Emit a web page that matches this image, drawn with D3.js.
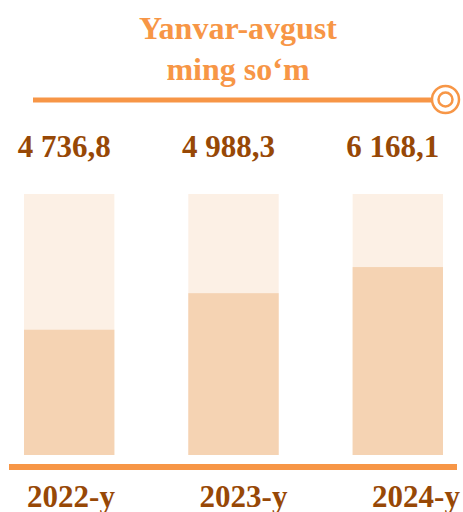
<!DOCTYPE html>
<html>
<head>
<meta charset="utf-8">
<script src="https://cdn.jsdelivr.net/npm/d3@7"></script>
<style>
  html, body { margin: 0; padding: 0; background: #fff; }
  svg { display: block; }
  text { font-family: "Liberation Serif", "Times New Roman", serif; font-weight: bold; }
</style>
</head>
<body>
<div id="chart"></div>
<script>
// chart data
const years = ["2022-y", "2023-y", "2024-y"];
const values = [4736.8, 4988.3, 6168.1];
// filled share of each bar, percent (as drawn in the infographic)
const fillShare = [48, 62, 72];
const titleLines = ["Yanvar-avgust", "ming so\u2018m"];

const WIDTH = 463;
const HEIGHT = 512;

const ORANGE = "#F79646";
const BROWN = "#974806";
const BAR_BG = "#FCF0E5";
const BAR_FG = "#F5D3B3";

const svg = d3.select("#chart")
    .append("svg")
    .attr("width", WIDTH)
    .attr("height", HEIGHT);

// title
svg.append("g")
    .selectAll("text")
    .data(titleLines)
    .join("text")
    .attr("x", 238)
    .attr("y", (d, i) => 39 + i * 41)
    .attr("text-anchor", "middle")
    .attr("font-size", 32)
    .attr("fill", ORANGE)
    .text(d => d);

// title rule with the ring at its end
svg.append("line")
    .attr("x1", 33).attr("x2", 432)
    .attr("y1", 100).attr("y2", 100)
    .attr("stroke", ORANGE)
    .attr("stroke-width", 5);
svg.append("circle")
    .attr("cx", 445.5).attr("cy", 99.5).attr("r", 13.5)
    .attr("fill", "#fff").attr("stroke", ORANGE).attr("stroke-width", 2.5);
svg.append("circle")
    .attr("cx", 445.5).attr("cy", 99.5).attr("r", 7)
    .attr("fill", "#fff").attr("stroke", ORANGE).attr("stroke-width", 2.5);

// scales
const xScale = d3.scaleBand()
    .domain(years)
    .range([24, 443])
    .paddingInner(0.45)
    .paddingOuter(0);

const yScale = d3.scaleLinear()
    .domain([0, 100])
    .range([455, 194]);

const fmt = v => d3.format(",.1f")(v).replace(",", " ").replace(".", ",");

const rows = years.map((y, i) => ({year: y, value: values[i], share: fillShare[i]}));

// bar backgrounds
svg.append("g")
    .selectAll("rect")
    .data(rows)
    .join("rect")
    .attr("x", d => xScale(d.year))
    .attr("y", yScale(100))
    .attr("width", xScale.bandwidth())
    .attr("height", yScale(0) - yScale(100))
    .attr("fill", BAR_BG);

// filled portion
svg.append("g")
    .selectAll("rect")
    .data(rows)
    .join("rect")
    .attr("x", d => xScale(d.year))
    .attr("y", d => yScale(d.share))
    .attr("width", xScale.bandwidth())
    .attr("height", d => yScale(0) - yScale(d.share))
    .attr("fill", BAR_FG);

// value labels
svg.append("g")
    .selectAll("text")
    .data(rows)
    .join("text")
    .attr("x", d => xScale(d.year) + xScale.bandwidth() / 2 - 5)
    .attr("y", 157)
    .attr("text-anchor", "middle")
    .attr("font-size", 31)
    .attr("fill", BROWN)
    .text(d => fmt(d.value));

// baseline
svg.append("line")
    .attr("x1", 9).attr("x2", 457)
    .attr("y1", 467).attr("y2", 467)
    .attr("stroke", ORANGE)
    .attr("stroke-width", 6);

// year labels (sit a little right of the bars)
const labelScale = d3.scalePoint()
    .domain(years)
    .range([71, 416]);

svg.append("g")
    .selectAll("text")
    .data(rows)
    .join("text")
    .attr("x", d => labelScale(d.year))
    .attr("y", 507)
    .attr("text-anchor", "middle")
    .attr("font-size", 31)
    .attr("fill", BROWN)
    .text(d => d.year);
</script>
</body>
</html>
